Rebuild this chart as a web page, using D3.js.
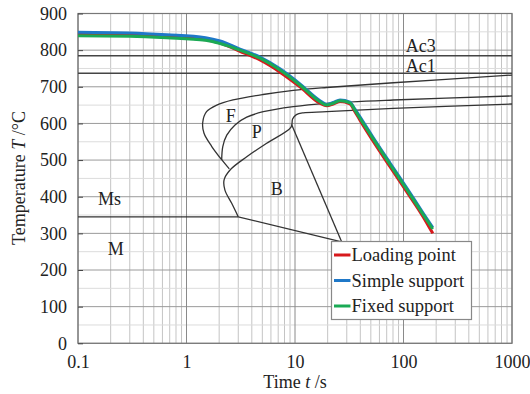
<!DOCTYPE html>
<html>
<meta charset="utf-8">
<style>
  body { margin: 0; background: #fff; }
  svg text { font-family: "Times New Roman", "Liberation Serif", Times, "DejaVu Serif", serif !important; fill: #222; }
</style>
<body>
<svg id="chart" width="530" height="394"></svg>
<script src="https://cdn.jsdelivr.net/npm/d3@7"></script>
<script>
// cooling curves (time in s, temperature in C)
var coolTime = [0.1, 0.3, 0.66, 1.5, 2.04, 3.11, 4.76, 7.27, 11.1, 17.0, 19.6, 22.5, 26, 32.1, 35.7, 39.7, 52.7, 75.1, 107, 152, 186];
var loadingPoint  = [844, 842, 837, 828, 819, 797, 773, 740, 700, 655, 648, 653, 660, 653, 632, 609, 551, 482, 414, 345, 300];
var simpleSupport = [849, 847, 842, 834, 825, 803, 781, 749, 708, 662, 652, 657, 664, 658, 639, 618, 561, 492, 424, 355, 316];
var fixedSupport  = [839, 838, 834, 827, 818, 800, 778, 746, 705, 659, 650, 655, 662, 656, 636, 614, 557, 488, 420, 351, 312];
var seriesNames = ["Loading point", "Simple support", "Fixed support"];
var seriesColors = ["#d7191c", "#1f78c8", "#1aaa55"];

// CCT diagram lines [time, temperature]
var ferriteStart = [[1000,732],[80.5,711],[19.6,698],[9.64,690],[5.07,679],[2.68,664],[1.9,650],[1.53,632],[1.41,602],[1.45,573],[1.71,537],[2.11,501],[2.48,476]];
var pearliteStart = [[2.11,500],[2.16,537],[2.35,568],[2.8,596],[3.59,617],[5.1,632],[9.64,646],[19.6,655],[80.5,664],[1000,675]];
var bainiteStart = [[3.0,345],[2.61,382],[2.26,418],[2.22,446],[2.52,473],[3.59,509],[5.48,546],[9.2,590],[9.5,612],[10.3,624],[11.9,629],[19.6,632],[80.5,641],[1000,653]];
var bainiteFinish = [[9.3,597],[26.9,277]];
var msLine = [[0.1,345],[3.0,345],[26.9,277]];
var ac3 = 785, ac1 = 737;

// region labels [text, time, temperature]
var regionLabels = [["Ac3",105,795],["Ac1",105,741],["Ms",0.153,377],["M",0.188,241],["F",2.3,605],["P",3.99,560],["B",5.97,405]];

var xTicks = [0.1, 1, 10, 100, 1000];
var yTicks = [0, 100, 200, 300, 400, 500, 600, 700, 800, 900];

var svg = d3.select("#chart");
var x = d3.scaleLog().domain([0.1, 1000]).range([78, 512]);
var y = d3.scaleLinear().domain([0, 900]).range([343.3, 13.5]);

// grid
var minor = [];
[0.1, 1, 10, 100].forEach(function(d){ for (var k=2;k<10;k++) minor.push(d*k); });
svg.append("g").selectAll("line").data(minor).enter().append("line")
  .attr("x1", function(d){ return x(d); }).attr("x2", function(d){ return x(d); })
  .attr("y1", y(0)).attr("y2", y(900))
  .attr("stroke", "#c4c4c4").attr("stroke-width", 1);
var yMinor = d3.range(50, 900, 100);
svg.append("g").selectAll("line").data(yMinor).enter().append("line")
  .attr("x1", x(0.1)).attr("x2", x(1000))
  .attr("y1", function(d){ return y(d); }).attr("y2", function(d){ return y(d); })
  .attr("stroke", "#dcdcdc").attr("stroke-width", 1);
svg.append("g").selectAll("line").data(yTicks).enter().append("line")
  .attr("x1", x(0.1)).attr("x2", x(1000))
  .attr("y1", function(d){ return y(d); }).attr("y2", function(d){ return y(d); })
  .attr("stroke", "#9a9a9a").attr("stroke-width", 1);
svg.append("g").selectAll("line").data(xTicks).enter().append("line")
  .attr("x1", function(d){ return x(d); }).attr("x2", function(d){ return x(d); })
  .attr("y1", y(0)).attr("y2", y(900))
  .attr("stroke", "#8a8a8a").attr("stroke-width", 1);

// frame
svg.append("rect").attr("x", x(0.1)).attr("y", y(900))
  .attr("width", x(1000)-x(0.1)).attr("height", y(0)-y(900))
  .attr("fill", "none").attr("stroke", "#777").attr("stroke-width", 1.2);

// axes
var xAxis = d3.axisBottom(x).tickValues(xTicks).tickSize(0).tickPadding(12)
  .tickFormat(function(d){ return d < 1 ? "0.1" : String(d); });
svg.append("g").attr("transform", "translate(0," + y(0) + ")").call(xAxis)
  .call(function(g){ g.select(".domain").remove(); })
  .selectAll("text").attr("font-size", "18px").attr("fill", "#222");
var yAxis = d3.axisLeft(y).tickValues(yTicks).tickSize(-5).tickPadding(11);
svg.append("g").attr("transform", "translate(" + x(0.1) + ",0)").call(yAxis)
  .call(function(g){ g.select(".domain").remove(); g.selectAll("line").attr("stroke", "#444"); })
  .selectAll("text").attr("font-size", "18px").attr("fill", "#222");

// axis titles
var xt = svg.append("text").attr("x", 295).attr("y", 388).attr("text-anchor", "middle").attr("font-size", "18px");
xt.append("tspan").text("Time ");
xt.append("tspan").attr("font-style", "italic").text("t");
xt.append("tspan").text(" /s");
var yt = svg.append("text").attr("transform", "translate(25,178) rotate(-90)").attr("text-anchor", "middle").attr("font-size", "18px");
yt.append("tspan").text("Temperature ");
yt.append("tspan").attr("font-style", "italic").text("T");
yt.append("tspan").text(" /°C");

// Ac lines
svg.append("g").selectAll("line").data([ac3, ac1]).enter().append("line")
  .attr("x1", x(0.1)).attr("x2", x(1000))
  .attr("y1", function(d){ return y(d); }).attr("y2", function(d){ return y(d); })
  .attr("stroke", "#444").attr("stroke-width", 1.5);

// CCT curves
var cctLine = d3.line().x(function(d){ return x(d[0]); }).y(function(d){ return y(d[1]); }).curve(d3.curveCatmullRom.alpha(0.5));
var straight = d3.line().x(function(d){ return x(d[0]); }).y(function(d){ return y(d[1]); });
[ferriteStart, pearliteStart, bainiteStart].forEach(function(c){
  svg.append("path").attr("d", cctLine(c)).attr("fill", "none").attr("stroke", "#333").attr("stroke-width", 1.3);
});
[bainiteFinish, msLine].forEach(function(c){
  svg.append("path").attr("d", straight(c)).attr("fill", "none").attr("stroke", "#333").attr("stroke-width", 1.3);
});

// labels
svg.append("g").selectAll("text").data(regionLabels).enter().append("text")
  .attr("x", function(d){ return x(d[1]); }).attr("y", function(d){ return y(d[2]); })
  .attr("font-size", "18px").text(function(d){ return d[0]; });

// cooling curves
var seriesData = [loadingPoint, simpleSupport, fixedSupport];
var coolLine = d3.line().x(function(d, i){ return x(coolTime[i]); }).y(function(d){ return y(d); }).curve(d3.curveMonotoneX);
seriesData.forEach(function(s, i){
  svg.append("path").attr("d", coolLine(s)).attr("fill", "none")
    .attr("stroke", seriesColors[i]).attr("stroke-width", 3);
});

// legend
var lg = svg.append("g").attr("transform", "translate(331.5,241.5)");
lg.append("rect").attr("width", 140).attr("height", 78).attr("fill", "#fff").attr("stroke", "#888").attr("stroke-width", 1.2);
seriesNames.forEach(function(n, i){
  var yy = 13.5 + i * 25.5;
  lg.append("line").attr("x1", 2.5).attr("x2", 19).attr("y1", yy).attr("y2", yy)
    .attr("stroke", seriesColors[i]).attr("stroke-width", 3);
  lg.append("text").attr("x", 20).attr("y", yy + 6).attr("font-size", "18.5px").text(n);
});
</script>
</body>
</html>
